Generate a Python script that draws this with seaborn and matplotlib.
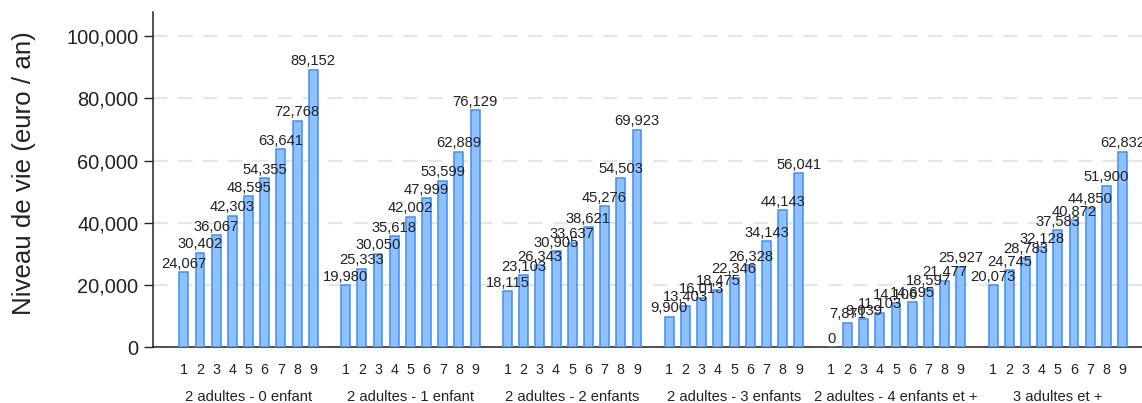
import matplotlib
matplotlib.use("Agg")
import matplotlib.pyplot as plt
import matplotlib.transforms as mtransforms
from matplotlib.ticker import FuncFormatter
import seaborn as sns
import pandas as pd

# data
groups = ["2 adultes - 0 enfant", "2 adultes - 1 enfant", "2 adultes - 2 enfants",
          "2 adultes - 3 enfants", "2 adultes - 4 enfants et +", "3 adultes et +"]
deciles = ["1", "2", "3", "4", "5", "6", "7", "8", "9"]
g0 = [24067, 30402, 36067, 42303, 48595, 54355, 63641, 72768, 89152]
g1 = [19980, 25333, 30050, 35618, 42002, 47999, 53599, 62889, 76129]
g2 = [18115, 23103, 26343, 30905, 33637, 38621, 45276, 54503, 69923]
g3 = [9900, 13403, 16013, 18475, 22346, 26328, 34143, 44143, 56041]
g4 = [0, 7871, 9039, 11103, 14106, 14695, 18597, 21477, 25927]
g5 = [20073, 24745, 28783, 32128, 37583, 40872, 44850, 51900, 62832]
values = [g0, g1, g2, g3, g4, g5]

# one row per bar, 10 slots per group (9 bars + a gap)
rows = []
for gi, vals in enumerate(values):
    for di, v in enumerate(vals):
        rows.append({"pos": gi * 10 + di, "decile": deciles[di], "group": groups[gi], "val": v})
df = pd.DataFrame(rows)

sns.set_style("white")
plt.rcParams['font.family'] = ['Liberation Sans', 'DejaVu Sans']

fig = plt.figure(figsize=(11.42, 4.03), dpi=100)
ax = fig.add_axes([0.134, 0.138, 0.866, 0.832])

sns.barplot(data=df, x="pos", y="val", native_scale=True, width=0.55,
            color="#8fc1ff", saturation=1, edgecolor="#3d8eff", linewidth=1.1,
            errorbar=None, ax=ax, zorder=3)

ax.bar_label(ax.containers[0], labels=[f"{v:,}" for v in df["val"]],
             padding=1, fontsize=10.6, color="#222222")

ax.set_xlim(-1.9, 59.2)
ax.set_ylim(0, 107700)
ax.set_yticks([0, 20000, 40000, 60000, 80000, 100000])
ax.yaxis.set_major_formatter(FuncFormatter(lambda v, p: f"{int(v):,}"))
ax.set_xticks(df["pos"])
ax.set_xticklabels(df["decile"])
ax.tick_params(axis="x", length=0, pad=11, labelsize=10.3, colors="#222222")
ax.tick_params(axis="y", length=6.5, width=1, pad=4, labelsize=14.4, colors="#222222", left=True)

ax.grid(axis="y", color="#e6e6e6", linestyle=(0, (7, 5)), linewidth=1.5, zorder=0)
ax.set_axisbelow(True)
sns.despine(ax=ax, top=True, right=True)
for s in ["left", "bottom"]:
    ax.spines[s].set_color("#222222")
    ax.spines[s].set_linewidth(1.1)

ax.set_xlabel("")
ax.set_ylabel("Niveau de vie (euro / an)", fontsize=18.6, color="#222222", labelpad=18)
ax.yaxis.set_label_coords(-0.118, 0.52)

# group labels under the decile ticks
trans = mtransforms.blended_transform_factory(ax.transData, ax.transAxes)
for gi, g in enumerate(groups):
    ax.text(gi * 10 + 4, -0.148, g, transform=trans, ha="center", va="center",
            fontsize=10.6, color="#222222")

fig.savefig("out.png", dpi=100)
